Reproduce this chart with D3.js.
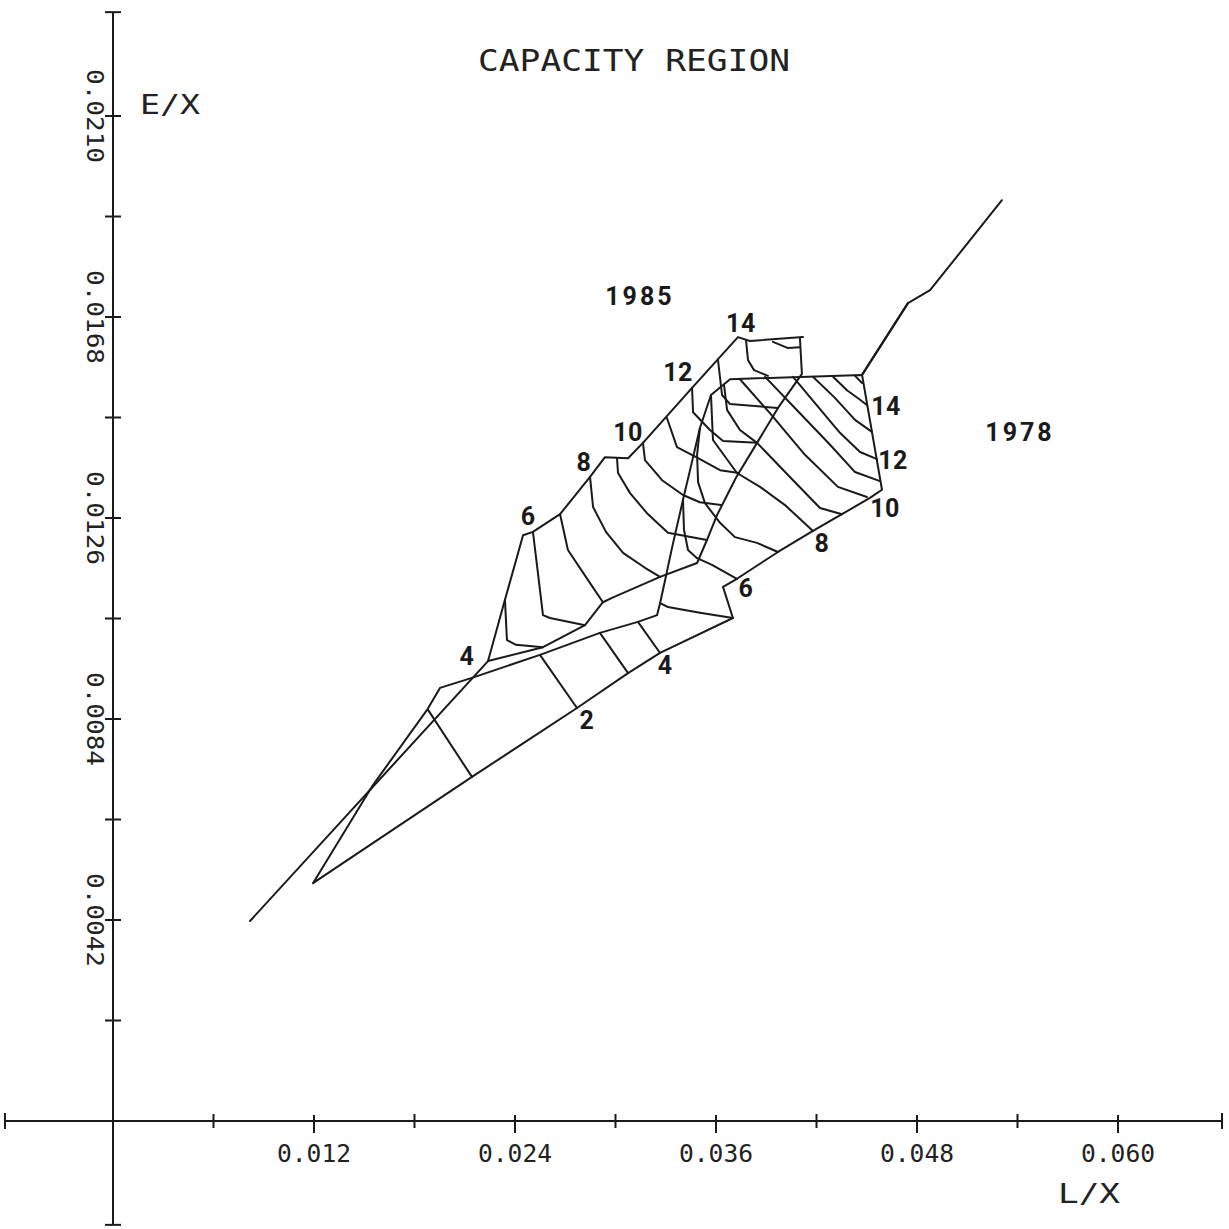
<!DOCTYPE html>
<html>
<head>
<meta charset="utf-8">
<script src="https://cdn.jsdelivr.net/npm/d3@7"></script>
<style>
  body { margin: 0; background: #fff; }
  .mesh { fill: none; stroke: #1a1a1a; stroke-width: 2; stroke-linejoin: round; stroke-linecap: round; }
  .axisLine { stroke: #1a1a1a; stroke-width: 2; }
  .plotText { font-family: "DejaVu Sans Mono", monospace; fill: #222; }
  .curveLabel { font-family: Roboto, "Open Sans", sans-serif; font-weight: 700; fill: #1a1a1a; }
</style>
</head>
<body>
<div id="chart"></div>
<script>
//axis ticks, values in L/X and E/X
var xMajorTicks = [0.012, 0.024, 0.036, 0.048, 0.060];
var xMinorTicks = [0.006, 0.018, 0.030, 0.042, 0.054];
var yMajorTicks = [0.0042, 0.0084, 0.0126, 0.0168, 0.0210];
var yMinorTicks = [0.0021, 0.0063, 0.0105, 0.0147, 0.0189];
//how far the plotter drew the two axis lines
var xAxisEnds = [-0.00645, 0.06621];
var yAxisEnds = [-0.00217, 0.02317];

//1985 region: tail, upper edge, lower edge and inner contour lines  [L/X, E/X]
var tail1985 = [[0.00818, 0.00418], [0.02239, 0.00961]];
var upperEdge1985 = [[0.02239, 0.00961], [0.02340, 0.01089], [0.02448, 0.01224], [0.02507, 0.01231], [0.02669, 0.01268],
    [0.02848, 0.01346], [0.02937, 0.01387], [0.03075, 0.01385], [0.03164, 0.01417], [0.03457, 0.01532],
    [0.03731, 0.01638], [0.03803, 0.01630], [0.04119, 0.01638]];
var lowerEdge1985 = [[0.02239, 0.00961], [0.02567, 0.00990], [0.02818, 0.01036], [0.02925, 0.01084], [0.02979, 0.01093],
    [0.03266, 0.01137], [0.03487, 0.01166], [0.03546, 0.01214], [0.03606, 0.01266], [0.03719, 0.01344],
    [0.03845, 0.01417], [0.03970, 0.01490], [0.04113, 0.01561], [0.04101, 0.01636]];
var contours1985 = [
    [[0.02340, 0.01089], [0.02352, 0.01005], [0.02406, 0.00995], [0.02567, 0.00990]],
    [[0.02507, 0.01231], [0.02537, 0.01145], [0.02567, 0.01057], [0.02609, 0.01051], [0.02818, 0.01036]],
    [[0.02669, 0.01268], [0.02716, 0.01193], [0.02848, 0.01124], [0.02925, 0.01084]],
    [[0.02848, 0.01346], [0.02866, 0.01283], [0.02943, 0.01231], [0.03045, 0.01187], [0.03176, 0.01156], [0.03266, 0.01137]],
    [[0.03009, 0.01385], [0.03015, 0.01354], [0.03087, 0.01312], [0.03188, 0.01270], [0.03313, 0.01229], [0.03546, 0.01214]],
    [[0.03164, 0.01417], [0.03176, 0.01381], [0.03278, 0.01339], [0.03403, 0.01308], [0.03504, 0.01293], [0.03630, 0.01287]],
    [[0.03307, 0.01469], [0.03367, 0.01408], [0.03493, 0.01385], [0.03624, 0.01360], [0.03737, 0.01354]],
    [[0.03457, 0.01532], [0.03463, 0.01481], [0.03564, 0.01444], [0.03642, 0.01421], [0.03845, 0.01417]],
    [[0.03612, 0.01590], [0.03636, 0.01517], [0.03684, 0.01498], [0.03970, 0.01490]],
    [[0.03779, 0.01632], [0.03791, 0.01590], [0.03827, 0.01569], [0.03910, 0.01557]],
    [[0.03940, 0.01628], [0.04030, 0.01615], [0.04101, 0.01617]]
];

//1978 region: closed outline, tail and contour lines
var outline1978 = [[0.01194, 0.00497], [0.02143, 0.00719], [0.02770, 0.00863], [0.03075, 0.00936], [0.03266, 0.00978],
    [0.03701, 0.01051], [0.03642, 0.01116], [0.03725, 0.01133], [0.03970, 0.01189], [0.04179, 0.01233],
    [0.04352, 0.01268], [0.04519, 0.01302], [0.04591, 0.01319], [0.04472, 0.01559], [0.03684, 0.01550],
    [0.03570, 0.01517], [0.03504, 0.01448], [0.03445, 0.01360], [0.03403, 0.01298], [0.03337, 0.01197],
    [0.03296, 0.01130], [0.03266, 0.01082], [0.03248, 0.01057], [0.03134, 0.01043], [0.02907, 0.01020],
    [0.02549, 0.00974], [0.02143, 0.00926], [0.01952, 0.00905], [0.01875, 0.00859], [0.01552, 0.00702],
    [0.01194, 0.00497]];
var tail1978 = [[0.04472, 0.01559], [0.04746, 0.01709], [0.04878, 0.01736], [0.05307, 0.01924]];
var contours1978 = [
    [[0.01881, 0.00859], [0.02143, 0.00719]],
    [[0.02549, 0.00974], [0.02770, 0.00863]],
    [[0.02907, 0.01020], [0.03075, 0.00936]],
    [[0.03134, 0.01043], [0.03266, 0.00978]],
    [[0.03266, 0.01082], [0.03313, 0.01074], [0.03504, 0.01062], [0.03701, 0.01051]],
    [[0.03403, 0.01298], [0.03409, 0.01235], [0.03433, 0.01193], [0.03487, 0.01176], [0.03576, 0.01162], [0.03725, 0.01133]],
    [[0.03504, 0.01448], [0.03487, 0.01392], [0.03493, 0.01335], [0.03534, 0.01291], [0.03624, 0.01250], [0.03713, 0.01220], [0.03845, 0.01208], [0.03970, 0.01189]],
    [[0.03570, 0.01517], [0.03582, 0.01423], [0.03725, 0.01354], [0.03863, 0.01325], [0.04012, 0.01287], [0.04179, 0.01233]],
    [[0.03648, 0.01538], [0.03666, 0.01486], [0.03743, 0.01444], [0.03845, 0.01417], [0.04060, 0.01339], [0.04221, 0.01281], [0.04352, 0.01268]],
    [[0.03743, 0.01550], [0.03922, 0.01479], [0.04131, 0.01392], [0.04328, 0.01325], [0.04501, 0.01304]],
    [[0.03893, 0.01555], [0.04101, 0.01479], [0.04281, 0.01413], [0.04430, 0.01356], [0.04579, 0.01337]],
    [[0.04060, 0.01555], [0.04191, 0.01500], [0.04340, 0.01438], [0.04460, 0.01398], [0.04561, 0.01383]],
    [[0.04179, 0.01555], [0.04310, 0.01511], [0.04430, 0.01465], [0.04531, 0.01440]],
    [[0.04299, 0.01555], [0.04382, 0.01527], [0.04460, 0.01507], [0.04501, 0.01496]],
    [[0.04430, 0.01557], [0.04472, 0.01542]]
];

//labels written next to the curves
var labels1985 = [
    {text: "1985", at: [0.03146, 0.01724]},
    {text: "14", at: [0.03749, 0.01667]},
    {text: "12", at: [0.03373, 0.01565]},
    {text: "10", at: [0.03075, 0.01440]},
    {text: "8", at: [0.02812, 0.01377]},
    {text: "6", at: [0.02478, 0.01264]},
    {text: "4", at: [0.02113, 0.00972]}
];
var labels1978 = [
    {text: "1978", at: [0.05415, 0.01440]},
    {text: "14", at: [0.04615, 0.01494]},
    {text: "12", at: [0.04657, 0.01381]},
    {text: "10", at: [0.04609, 0.01281]},
    {text: "8", at: [0.04233, 0.01208]},
    {text: "6", at: [0.03779, 0.01114]},
    {text: "4", at: [0.03296, 0.00953]},
    {text: "2", at: [0.02830, 0.00838]}
];

var width = 1229, height = 1229;

var svg = d3.select("#chart").append("svg").attr("width", width).attr("height", height);
svg.append("rect").attr("width", width).attr("height", height).attr("fill", "#fff");

//scales: origin of the plot sits at (113,1121)
var x = d3.scaleLinear().domain([0, 0.060]).range([113, 1118]);
var y = d3.scaleLinear().domain([0, 0.0210]).range([1121, 116]);

var line = d3.line().x(function (d) { return x(d[0]); }).y(function (d) { return y(d[1]); });

// ---- axes ----
var axes = svg.append("g");

//horizontal axis with end caps
axes.append("line").attr("class", "axisLine")
    .attr("x1", x(xAxisEnds[0])).attr("x2", x(xAxisEnds[1]))
    .attr("y1", y(0)).attr("y2", y(0));
axes.selectAll(".xcap").data(xAxisEnds).enter().append("line").attr("class", "axisLine")
    .attr("x1", function (d) { return x(d); }).attr("x2", function (d) { return x(d); })
    .attr("y1", y(0) - 8).attr("y2", y(0) + 8);
axes.selectAll(".xminor").data(xMinorTicks).enter().append("line").attr("class", "axisLine")
    .attr("x1", function (d) { return x(d); }).attr("x2", function (d) { return x(d); })
    .attr("y1", y(0) - 7).attr("y2", y(0) + 7);
axes.selectAll(".xmajor").data(xMajorTicks).enter().append("line").attr("class", "axisLine")
    .attr("x1", function (d) { return x(d); }).attr("x2", function (d) { return x(d); })
    .attr("y1", y(0) - 6).attr("y2", y(0) + 12);
axes.selectAll(".xlabel").data(xMajorTicks).enter().append("text").attr("class", "plotText")
    .attr("x", function (d) { return x(d); })
    .attr("y", y(0) + 33)
    .attr("dy", "0.35em")
    .attr("text-anchor", "middle")
    .attr("font-size", 24)
    .attr("textLength", 74)
    .attr("lengthAdjust", "spacingAndGlyphs")
    .text(d3.format(".3f"));

//vertical axis with end caps
axes.append("line").attr("class", "axisLine")
    .attr("x1", x(0)).attr("x2", x(0))
    .attr("y1", y(yAxisEnds[0])).attr("y2", y(yAxisEnds[1]));
axes.selectAll(".ycap").data(yAxisEnds).enter().append("line").attr("class", "axisLine")
    .attr("x1", x(0) - 8).attr("x2", x(0) + 8)
    .attr("y1", function (d) { return y(d); }).attr("y2", function (d) { return y(d); });
axes.selectAll(".ytick").data(yMajorTicks.concat(yMinorTicks)).enter().append("line").attr("class", "axisLine")
    .attr("x1", x(0) - 8).attr("x2", x(0) + 8)
    .attr("y1", function (d) { return y(d); }).attr("y2", function (d) { return y(d); });
axes.selectAll(".ylabel").data(yMajorTicks).enter().append("text").attr("class", "plotText")
    .attr("transform", function (d) { return "translate(" + (x(0) - 18) + "," + y(d) + ") rotate(90)"; })
    .attr("dy", "0.35em")
    .attr("text-anchor", "middle")
    .attr("font-size", 23)
    .attr("textLength", 94)
    .attr("lengthAdjust", "spacingAndGlyphs")
    .text(d3.format(".4f"));

//axis names and title
svg.append("text").attr("class", "plotText")
    .attr("x", 170).attr("y", 105).attr("dy", "0.35em")
    .attr("text-anchor", "middle").attr("font-size", 27)
    .attr("textLength", 60).attr("lengthAdjust", "spacingAndGlyphs")
    .text("E/X");
svg.append("text").attr("class", "plotText")
    .attr("x", 1089).attr("y", 1194).attr("dy", "0.35em")
    .attr("text-anchor", "middle").attr("font-size", 27)
    .attr("textLength", 62).attr("lengthAdjust", "spacingAndGlyphs")
    .text("L/X");
svg.append("text").attr("class", "plotText")
    .attr("x", 634).attr("y", 60).attr("dy", "0.35em")
    .attr("text-anchor", "middle").attr("font-size", 30)
    .attr("textLength", 312).attr("lengthAdjust", "spacingAndGlyphs")
    .text("CAPACITY REGION");

// ---- mesh of both years ----
var mesh = svg.append("g");

[tail1985, upperEdge1985, lowerEdge1985, outline1978, tail1978]
    .concat(contours1985).concat(contours1978)
    .forEach(function (pts) {
        mesh.append("path").attr("class", "mesh").attr("d", line(pts));
    });

//the first part of the 1978 tail is drawn heavier
mesh.append("path").attr("class", "mesh").attr("stroke-width", 2.8).attr("d", line(tail1978.slice(0, 2)));

// ---- labels ----
svg.selectAll(".curveLabel").data(labels1985.concat(labels1978)).enter().append("text")
    .attr("class", "curveLabel")
    .attr("x", function (d) { return x(d.at[0]); })
    .attr("y", function (d) { return y(d.at[1]); })
    .attr("dy", "0.36em")
    .attr("text-anchor", "middle")
    .attr("font-size", 25)
    .attr("letter-spacing", function (d) { return d.text.length > 2 ? 3 : 0.5; })
    .text(function (d) { return d.text; });
</script>
</body>
</html>
